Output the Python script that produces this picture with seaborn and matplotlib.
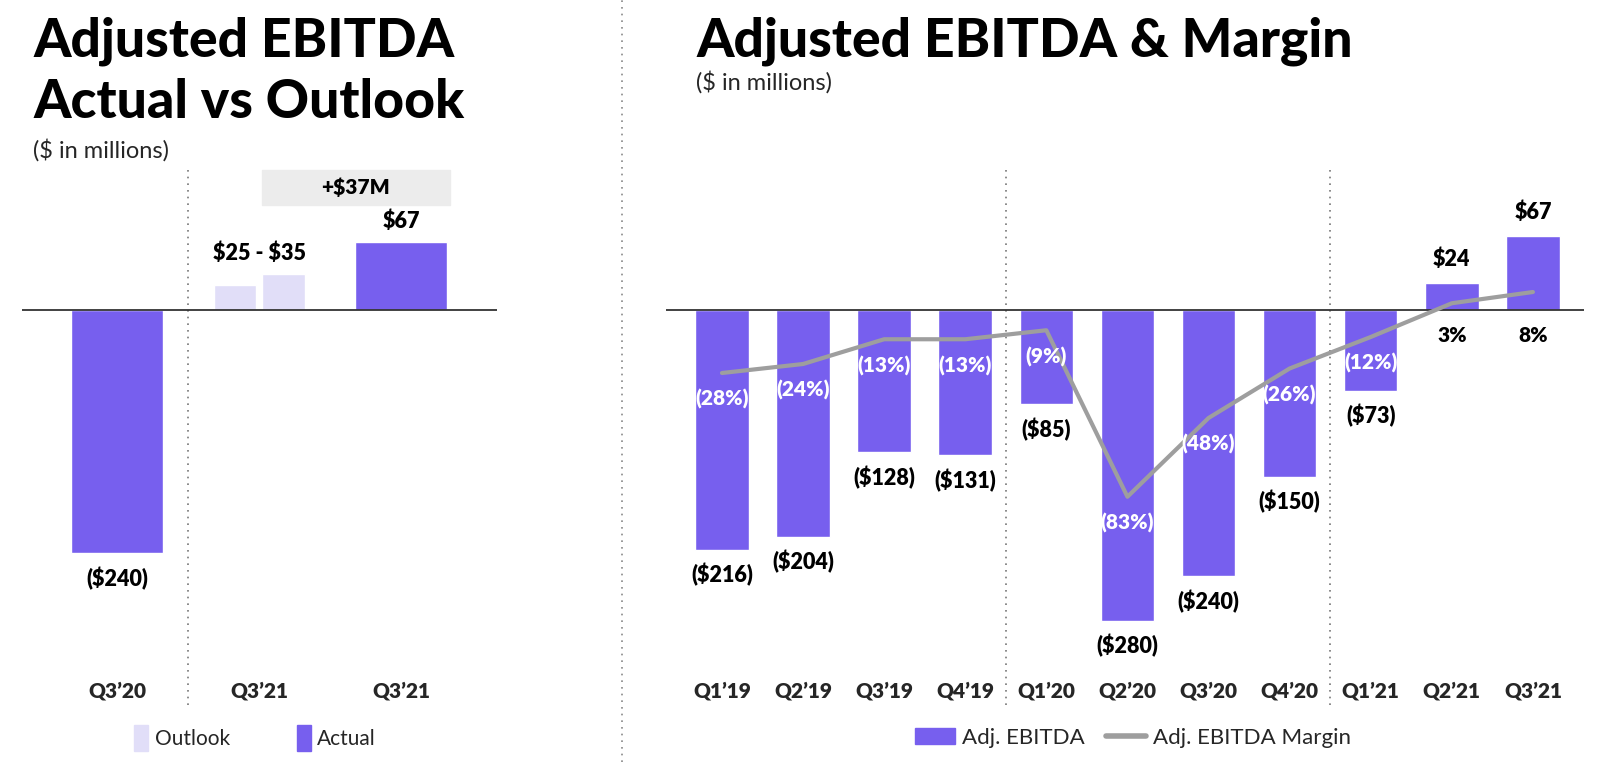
"""
Adjusted EBITDA: actual vs outlook, and quarterly EBITDA with margin.
"""

import matplotlib.pyplot as plt
from matplotlib.patches import Patch, Rectangle
from matplotlib.lines import Line2D
import numpy as np
import pandas as pd
import seaborn as sns

# ---- data -------------------------------------------------------------
left_labels = ["Q3’20", "Q3’21", "Q3’21"]
left_actual = [-240, 67]          # Q3'20 actual, Q3'21 actual
outlook_range = [25, 35]          # Q3'21 outlook low / high
beat_text = r"+\$37M"

quarters = ["Q1’19", "Q2’19", "Q3’19", "Q4’19", "Q1’20", "Q2’20",
            "Q3’20", "Q4’20", "Q1’21", "Q2’21", "Q3’21"]
ebitda = [-216, -204, -128, -131, -85, -280, -240, -150, -73, 24, 67]
margin = [-28, -24, -13, -13, -9, -83, -48, -26, -12, 3, 8]

PURPLE = '#775FEE'
LAVENDER = '#E1DEF8'
GREY_LINE = '#9E9E9E'
FONT = ['Lato', 'DejaVu Sans']


def money(v):
    return f"(\\${abs(v)})" if v < 0 else f"\\${v}"


def pct(v):
    return f"({abs(v)}%)" if v < 0 else f"{v}%"


sns.set_theme(style='white')
plt.rcParams['font.family'] = FONT

fig = plt.figure(figsize=(16, 7.62), dpi=100)
W, H = 1600, 762


def axes_px(x0, x1, top, bottom):
    return fig.add_axes([x0 / W, 1 - bottom / H, (x1 - x0) / W, (bottom - top) / H])


# ---- left panel -------------------------------------------------------
axl = axes_px(22, 497, 150, 672)
axl.bar(0, left_actual[0], width=0.65, color=PURPLE)
axl.bar(2, left_actual[1], width=0.65, color=PURPLE)
axl.bar([1 - 0.17, 1 + 0.17], outlook_range, width=0.30, color=LAVENDER)
axl.set_xlim(-0.67, 2.676)
axl.set_ylim(-358, 158)
axl.axhline(0, color='#333333', lw=1.3, zorder=3)
axl.axvline(0.5, ymin=-0.063, ymax=0.962, color='#777777', lw=1.2,
            ls=(0, (1, 3)), clip_on=False)

lab_kw = dict(textcoords='offset points', ha='center', va='center',
              fontsize=15.5, fontweight='heavy', color='black')
axl.annotate(money(left_actual[0]), (0, left_actual[0]), xytext=(0, -19), **lab_kw)
axl.annotate(money(left_actual[1]), (2, left_actual[1]), xytext=(0, 15), **lab_kw)
axl.annotate(f"\\${outlook_range[0]} - \\${outlook_range[1]}", (1, max(outlook_range)),
             xytext=(0, 15), **lab_kw)
axl.add_patch(Rectangle((1.02, 104), 1.325, 34, color='#ECECEC', zorder=0))
axl.text(1.68, 121, beat_text, ha='center', va='center', fontsize=15,
         fontweight='heavy', color='black')

axl.set_xticks(range(3))
axl.set_xticklabels(left_labels, fontsize=15, fontweight='heavy')
axl.set_yticks([])
axl.tick_params(axis='x', length=0, pad=7)
sns.despine(ax=axl, left=True, bottom=True)

fig.legend(handles=[Patch(color=LAVENDER, label='Outlook'),
                    Patch(color=PURPLE, label='Actual')],
           loc='center', bbox_to_anchor=(255 / W, 1 - 738 / H), ncol=2,
           frameon=False, fontsize=15, handlelength=0.7, handleheight=1.5,
           columnspacing=3.2, handletextpad=0.3)

# ---- right panel ------------------------------------------------------
df = pd.DataFrame({'quarter': quarters, 'ebitda': ebitda, 'margin': margin})
df['pos'] = np.arange(len(df))

axr = axes_px(666, 1584, 150, 672)
sns.barplot(data=df, x='quarter', y='ebitda', color=PURPLE, saturation=1,
            width=0.66, ax=axr)
axr.set_xlim(-0.69, 10.63)
axr.set_ylim(-326, 144)
axr.axhline(0, color='#333333', lw=1.3, zorder=3)
for xv in (3.5, 7.5):
    axr.axvline(xv, ymin=-0.063, ymax=0.962, color='#777777', lw=1.2,
                ls=(0, (1, 3)), clip_on=False)

for i, v in enumerate(ebitda):
    axr.annotate(money(v), (i, v), xytext=(0, 17 if v > 0 else -18), **lab_kw)

axm = axr.twinx()
sns.lineplot(data=df, x='pos', y='margin', color=GREY_LINE, lw=3, ax=axm)
axm.set_ylim(-362 / 2.25, 160 / 2.25)
for i, m in enumerate(margin):
    if m < 0:
        axm.annotate(pct(m), (i, m), xytext=(0, -19), textcoords='offset points',
                     ha='center', va='center', fontsize=15, fontweight='heavy',
                     color='white')
    else:
        axm.annotate(pct(m), (i, 0), xytext=(0, -18), textcoords='offset points',
                     ha='center', va='center', fontsize=15, fontweight='heavy',
                     color='black')
axm.set_yticks([])
axm.set_ylabel('')
axm.set_xlabel('')
sns.despine(ax=axm, left=True, right=True, bottom=True)

axr.set_xticks(range(len(quarters)))
axr.set_xticklabels(quarters, fontsize=15, fontweight='heavy')
axr.set_yticks([])
axr.set_xlabel('')
axr.set_ylabel('')
axr.tick_params(axis='x', length=0, pad=7)
sns.despine(ax=axr, left=True, bottom=True)

fig.legend(handles=[Patch(color=PURPLE, label='Adj. EBITDA'),
                    Line2D([0], [0], color=GREY_LINE, lw=4,
                           label='Adj. EBITDA Margin')],
           loc='center', bbox_to_anchor=(1133 / W, 1 - 738 / H), ncol=2,
           frameon=False, fontsize=16, handlelength=1.8, columnspacing=1.0,
           handletextpad=0.3)

# ---- titles and divider -----------------------------------------------
title_kw = dict(fontsize=38.5, fontweight='black', color='black', va='center')
fig.text(33 / W, 1 - 41 / H, 'Adjusted EBITDA', **title_kw)
fig.text(33 / W, 1 - 102 / H, 'Actual vs Outlook', **title_kw)
fig.text(696 / W, 1 - 41 / H, 'Adjusted EBITDA & Margin', **title_kw)
fig.text(33 / W, 1 - 150 / H, r'(\$ in millions)', fontsize=17, va='center')
fig.text(696 / W, 1 - 82 / H, r'(\$ in millions)', fontsize=17, va='center')

fig.add_artist(Line2D([622 / W, 622 / W], [0, 1], transform=fig.transFigure,
                      color='#888888', lw=1.2, ls=(0, (1, 3))))

fig.savefig('out.png', dpi=100)
plt.close(fig)
